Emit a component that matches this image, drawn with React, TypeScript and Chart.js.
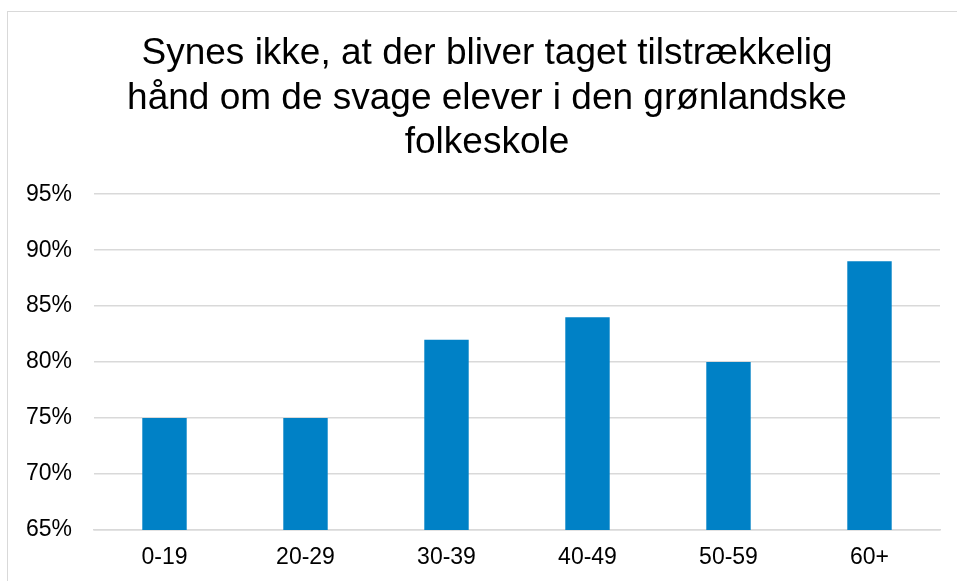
import React, { useEffect, useRef } from "react";
import { Chart, registerables } from "chart.js";

Chart.register(...registerables);

const titleLines = [
  "Synes ikke, at der bliver taget tilstrækkelig",
  "hånd om de svage elever i den grønlandske",
  "folkeskole",
];
const categories = ["0-19", "20-29", "30-39", "40-49", "50-59", "60+"];
const values = [75, 75, 82, 84, 80, 89];
const yMin = 65;
const yMax = 95;
const yStep = 5;

const FONT = "'Liberation Sans', Arial, sans-serif";

export default function App() {
  const ref = useRef<HTMLCanvasElement | null>(null);

  useEffect(() => {
    if (!ref.current) return;
    const chart = new Chart(ref.current, {
      type: "bar",
      data: {
        labels: categories,
        datasets: [
          {
            data: values,
            backgroundColor: "#0081C6",
            borderWidth: 0,
            categoryPercentage: 1,
            barPercentage: 0.315,
            yAxisID: "y",
          },
        ],
      },
      options: {
        animation: false,
        responsive: true,
        maintainAspectRatio: false,
        layout: { padding: { left: 16, right: 8, top: 20, bottom: 8 } },
        plugins: {
          legend: { display: false },
          tooltip: { enabled: false },
          title: {
            display: true,
            text: titleLines,
            color: "#000000",
            font: { family: FONT, size: 37, weight: "normal", lineHeight: 1.2 },
            padding: { top: 0, bottom: 29 },
          },
        },
        scales: {
          x: {
            afterFit: (scale: any) => {
              scale.height = 44;
            },
            grid: { display: false, drawTicks: false },
            border: { display: true, color: "#D9D9D9", width: 1.5 },
            ticks: {
              color: "#000000",
              padding: 14,
              font: { family: FONT, size: 23 },
            },
          },
          y: {
            min: yMin,
            max: yMax,
            afterFit: (scale: any) => {
              scale.width = 70;
            },
            grid: { color: "#D9D9D9", lineWidth: 1.5, drawTicks: false },
            border: { display: false },
            ticks: {
              stepSize: yStep,
              color: "#000000",
              padding: 22,
              font: { family: FONT, size: 23 },
              callback: (v: any) => `${v}%`,
            },
          },
          yRight: {
            type: "linear",
            position: "right",
            display: true,
            afterFit: (scale: any) => {
              scale.width = 10;
            },
            grid: { display: false, drawTicks: false },
            border: { display: false },
            ticks: { display: false },
          },
        },
      },
    });
    return () => chart.destroy();
  }, []);

  return (
    <div
      style={{
        position: "fixed",
        left: 7,
        top: 11,
        width: 950,
        height: 570,
        borderLeft: "1px solid #D9D9D9",
        borderTop: "1px solid #D9D9D9",
        background: "#fff",
      }}
    >
      <canvas ref={ref} />
    </div>
  );
}
